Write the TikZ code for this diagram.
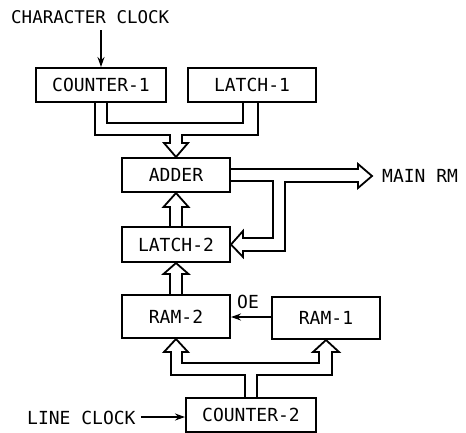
\documentclass[tikz,border=0pt]{standalone}
\usepackage{fontspec}
\setmainfont{DejaVu Sans Mono}
\usetikzlibrary{arrows.meta,calc}
\begin{document}
\begin{tikzpicture}[x=1pt,y=-1pt,
  blk/.style={draw,line width=2pt,inner sep=0pt,font=\fontsize{18}{21}\selectfont},
  lbl/.style={inner sep=0pt,font=\fontsize{18}{21}\selectfont},
  bus/.style={line width=1.8pt,line join=miter},
  sig/.style={line width=1.7pt,-{Stealth[length=10pt,width=7pt]}}]
\useasboundingbox (0,0) rectangle (466,432);
% blocks
\node[blk,minimum width=130pt,minimum height=34pt] (c1) at (101,85) {COUNTER-1};
\node[blk,minimum width=128pt,minimum height=34pt] (l1) at (252,85) {LATCH-1};
\node[blk,minimum width=108pt,minimum height=34pt] (adder) at (176,175) {ADDER};
\node[blk,minimum width=108pt,minimum height=35pt] (l2) at (176,244.5) {LATCH-2};
\node[blk,minimum width=108pt,minimum height=43pt] (ram2) at (176,316.5) {RAM-2};
\node[blk,minimum width=108pt,minimum height=42pt] (ram1) at (326,318) {RAM-1};
\node[blk,minimum width=130pt,minimum height=34pt] (c2) at (251,415) {COUNTER-2};
% labels
\node[lbl,font=\fontsize{17.5}{21}\selectfont,anchor=west] (cc) at (11,17) {CHARACTER CLOCK};
\node[lbl,anchor=west] (main) at (382,176) {MAIN RM};
\node[lbl] (oe) at (248,302) {OE};
\node[lbl,anchor=west] (lc) at (27,418) {LINE CLOCK};
% signal arrows
\coordinate (ccs) at (c1.north |- 0,30);
\draw[sig] (ccs) -- (c1.north);
\draw[sig] (ram1.west |- 0,317) -- (ram2.east |- 0,317);
\draw[sig] ($(lc.east)+(5,-1)$) -- (c2.west |- 0,417);
% bus: counter-1 / latch-1 to adder
\draw[bus] (107,102) -- (107,123) -- (243,123) -- (243,102);
\draw[bus] (95,102) -- (95,135) -- (170,135) -- (170,143) -- (164,143)
  -- (adder.north) -- (188,143) -- (182,143) -- (182,135) -- (258,135) -- (258,102);
% bus: latch-2 to adder
\draw[bus] (170,227) -- (170,207) -- (163.5,207) -- (adder.south) -- (188.5,207)
  -- (182,207) -- (182,227);
% bus: ram-2 to latch-2
\draw[bus] (170,295) -- (170,274) -- (163.5,274) -- (l2.south) -- (188.5,274)
  -- (182,274) -- (182,295);
% bus: adder to main RM and back to latch-2
\draw[bus] (230,169) -- (358,169) -- (358,164) -- (372,176) -- (358,188) -- (358,182)
  -- (285,182) -- (285,251) -- (243,251) -- (243,257) -- (l2.east) -- (243,231)
  -- (243,238) -- (273,238) -- (273,181) -- (230,181);
% bus: counter-2 to ram-2 and ram-1
\draw[bus] (245,398) -- (245,375) -- (171,375) -- (171,352) -- (164,352) -- (ram2.south)
  -- (188,352) -- (182,352) -- (182,363) -- (319,363) -- (319,352) -- (313,352)
  -- (ram1.south) -- (339,352) -- (332,352) -- (332,375) -- (257,375) -- (257,398);
\end{tikzpicture}
\end{document}
